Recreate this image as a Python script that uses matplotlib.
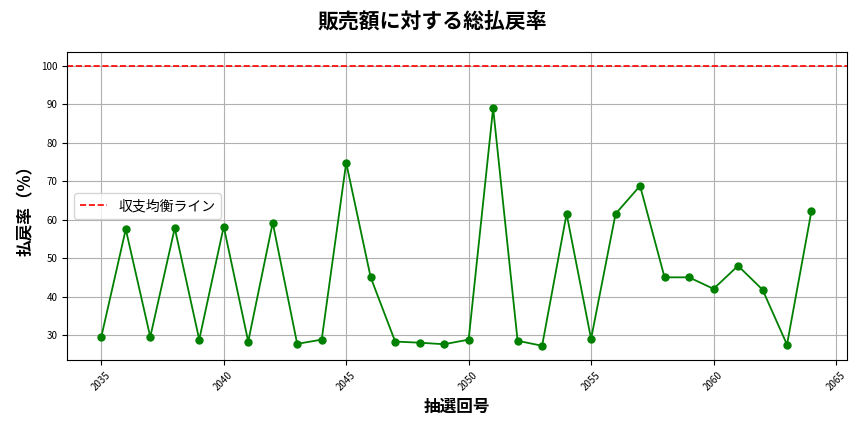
import matplotlib
matplotlib.use("Agg")
import matplotlib.pyplot as plt

plt.rcParams['font.family'] = ['Noto Sans CJK JP', 'DejaVu Sans']

draws = list(range(2035, 2065))
rates = [29.5, 57.5, 29.5, 57.8, 28.8, 58.2, 28.3, 59.2, 27.7, 28.8,
         74.8, 45.0, 28.3, 28.0, 27.6, 28.8, 89.0, 28.5, 27.2, 61.5,
         29.0, 61.5, 68.8, 45.0, 45.0, 42.0, 48.0, 41.8, 27.5, 62.3]

fig = plt.figure(figsize=(8.64, 4.32), dpi=100)
ax = fig.add_axes([67/864, 1-360/432, 780/864, 308/432])
ax.plot(draws, rates, color='green', marker='o', markersize=5, linewidth=1.3)
ax.axhline(100, color='red', linestyle='--', linewidth=1.2, label='収支均衡ライン')
ax.set_xlim(2033.6, 2065.45)
ax.set_ylim(23.5, 103.6)
ax.set_xticks(range(2035, 2066, 5))
ax.tick_params(axis='x', labelrotation=45, labelsize=7)
ax.tick_params(axis='y', labelsize=7)
ax.grid(True, color='#b0b0b0', linewidth=0.8)
ax.set_xlabel('抽選回号', fontsize=12, fontweight='bold')
ax.set_ylabel('払戻率（%）', fontsize=12, fontweight='bold')
fig.suptitle('販売額に対する総払戻率', fontsize=15, fontweight='bold', y=0.975)
ax.legend(loc='center left', bbox_to_anchor=(0.0, 0.5), fontsize=10)
fig.savefig('out.png', dpi=100)
